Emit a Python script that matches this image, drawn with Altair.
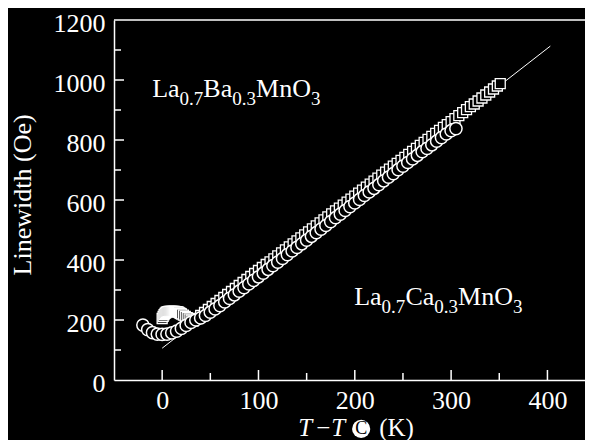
import altair as alt
import pandas as pd

# ---- data ----
circ_T = [-20, -15, -10, -5, 0, 5, 10, 15, 20, 25, 30, 35, 40, 45, 50, 55, 60, 65, 70, 75,
          80, 85, 90, 95, 100, 105, 110, 115, 120, 125, 130, 135, 140, 145, 150, 155, 160,
          165, 170, 175, 180, 185, 190, 195, 200, 205, 210, 215, 220, 225, 230, 235, 240,
          245, 250, 255, 260, 265, 270, 275, 280, 285, 290, 295, 300, 305]
circ_v = [183, 168, 158, 153, 152, 153, 157, 163, 172, 182, 192, 200, 207, 215, 226, 237,
          248, 260, 272, 284, 296, 308, 320, 332, 344, 356, 369, 381, 393, 405, 418, 430,
          442, 454, 466, 479, 491, 503, 515, 528, 541, 553, 565, 578, 590, 602, 615, 627,
          639, 651, 664, 676, 688, 701, 713, 725, 737, 749, 761, 772, 784, 796, 808, 820,
          831, 838]

sq_T = [0, 1, 2, 3, 4, 5, 6, 7, 8, 9, 10, 11, 12, 13, 14, 15, 16, 17, 18, 19, 20, 22, 24,
        26, 28, 30,
        32, 36, 40, 44, 48, 52, 56, 60, 64, 68, 72, 76, 80, 84, 88, 92, 96, 100,
        104, 108, 112, 116, 120, 124, 128, 132, 136, 140, 144, 148, 152, 156, 160,
        164, 168, 172, 176, 180, 184, 188, 192, 196, 200, 204, 208, 212, 216, 220,
        224, 228, 232, 236, 240, 244, 248, 252, 256, 260, 264, 268, 272, 276, 280,
        284, 288, 292, 296, 300, 304, 308, 312, 316, 320, 324, 328, 332, 336, 340,
        344, 348, 351]
sq_v = [205, 212, 218, 222, 225, 227, 228, 229, 229, 229, 229, 229, 229, 229, 228, 228,
        227, 226, 224, 222, 220, 216, 212, 208, 204, 200,
        196, 205, 215, 225, 235, 245, 255, 265, 275, 285, 295, 305, 315, 325, 335, 345, 355, 365,
        375, 385, 394, 404, 414, 424, 434, 444, 454, 464, 474, 484, 494, 504, 514,
        524, 534, 544, 554, 564, 573, 583, 593, 603, 613, 623, 633, 643, 653, 663,
        673, 683, 693, 703, 713, 722, 732, 742, 752, 762, 772, 782, 792, 802, 812,
        822, 832, 842, 851, 861, 871, 881, 891, 901, 911, 920, 930, 940, 950, 960,
        970, 980, 988]

fit_T = [0, 403]
fit_v = [106, 1113]

x_major = [0, 100, 200, 300, 400]
x_minor = [50, 150, 250, 350]
y_labels = [0, 200, 400, 600, 800, 1000, 1200]
y_major = [200, 400, 600, 800, 1000]
y_minor = [100, 300, 500, 700, 900, 1100]

FONT = "Liberation Serif, Times New Roman, serif"
W, H = 471, 360
XDOM = [-50, 439]
YDOM = [0, 1200]

xs = alt.Scale(domain=XDOM, nice=False, zero=False)
ys = alt.Scale(domain=YDOM, nice=False, zero=False)

circ = pd.DataFrame({"T": circ_T, "v": circ_v})
sq = pd.DataFrame({"T": sq_T, "v": sq_v})
fit = pd.DataFrame({"T": fit_T, "v": fit_v})

xaxis = alt.Axis(values=x_major, ticks=False, tickSize=0, labelFont=FONT, labelFontSize=26,
                 labelColor="white", domainColor="white", domainWidth=1.5, grid=False,
                 labelPadding=7, title=None, format="d")
yaxis = alt.Axis(values=y_labels, ticks=False, tickSize=0,
                 labelFont=FONT, labelFontSize=26, labelColor="white", domainColor="white",
                 domainWidth=1.5, grid=False, labelPadding=9, labelOffset=3, title=None,
                 format="d")

base_fit = alt.Chart(fit).mark_line(color="white", strokeWidth=1).encode(
    x=alt.X("T:Q", scale=xs, axis=xaxis),
    y=alt.Y("v:Q", scale=ys, axis=yaxis),
)

squares = alt.Chart(sq).mark_point(shape="square", filled=True, fill="black", stroke="white",
                                   strokeWidth=1.3, size=100, opacity=1).encode(
    x=alt.X("T:Q", scale=xs), y=alt.Y("v:Q", scale=ys), order=alt.Order("T:Q"))

circles = alt.Chart(circ).mark_point(shape="circle", filled=True, fill="black", stroke="white",
                                     strokeWidth=1.5, size=150, opacity=1).encode(
    x=alt.X("T:Q", scale=xs), y=alt.Y("v:Q", scale=ys), order=alt.Order("T:Q"))

# frame top line
top_line = alt.Chart(pd.DataFrame({"a": [0]})).mark_rule(color="white", strokeWidth=1.5).encode(
    x=alt.value(0), x2=alt.value(W), y=alt.value(0))

# inward ticks
xt_major = alt.Chart(pd.DataFrame({"t": x_major})).mark_rule(color="white", strokeWidth=1.5).encode(
    x=alt.X("t:Q", scale=xs), y=alt.value(H), y2=alt.value(H - 10))
xt_minor = alt.Chart(pd.DataFrame({"t": x_minor})).mark_rule(color="white", strokeWidth=1.5).encode(
    x=alt.X("t:Q", scale=xs), y=alt.value(H), y2=alt.value(H - 7))
yt_major = alt.Chart(pd.DataFrame({"t": y_major})).mark_rule(color="white", strokeWidth=1.5).encode(
    y=alt.Y("t:Q", scale=ys), x=alt.value(0), x2=alt.value(10))
yt_minor = alt.Chart(pd.DataFrame({"t": y_minor})).mark_rule(color="white", strokeWidth=1.5).encode(
    y=alt.Y("t:Q", scale=ys), x=alt.value(0), x2=alt.value(7))


def txt(text, T, v, dx=0, dy=0, size=26, color="white", style="normal", align="left",
        baseline="alphabetic", angle=0):
    d = pd.DataFrame({"T": [T], "v": [v], "s": [text]})
    kw = dict(font=FONT, fontSize=size, color=color, align=align, baseline=baseline,
              dx=dx, dy=dy, fontStyle=style)
    if angle:
        kw["angle"] = angle
    return alt.Chart(d).mark_text(**kw).encode(
        x=alt.X("T:Q", scale=xs), y=alt.Y("v:Q", scale=ys), text="s:N")


def formula(parts, T, v):
    # parts: list of (text, is_sub, width_px)
    layers = []
    off = 0
    for text, sub, w in parts:
        layers.append(txt(text, T, v, dx=off, dy=8 if sub else 0, size=19 if sub else 26))
        off += w
    return layers


ba_parts = [("La", False, 27.4), ("0.7", True, 23.8), ("Ba", False, 28.9),
            ("0.3", True, 23.8), ("MnO", False, 54.9), ("3", True, 9.5)]
ca_parts = [("La", False, 27.4), ("0.7", True, 23.8), ("Ca", False, 28.9),
            ("0.3", True, 23.8), ("MnO", False, 54.9), ("3", True, 9.5)]

ann = []
ann += formula(ba_parts, -10.4, 943)
ann += formula(ca_parts, 199.4, 250)

# y-axis title
ann.append(txt("Linewidth  (Oe)", -144.4, 617, size=26, align="center", baseline="middle",
               angle=270))

# x-axis title pieces (slightly raised so that they fit in the page)
ann.append(txt("T", 141.2, -187, size=25, style="italic"))
ann.append(txt("\u2212", 160.0, -187, size=25))
ann.append(txt("T", 175.5, -187, size=25, style="italic"))
dot = alt.Chart(pd.DataFrame({"T": [206.6], "v": [-163]})).mark_point(
    shape="circle", filled=True, color="white", size=330, opacity=1).encode(
    x=alt.X("T:Q", scale=xs), y=alt.Y("v:Q", scale=ys))
ann.append(dot)
ann.append(txt("C", 206.6, -163, size=18, color="black", align="center", baseline="middle"))
ann.append(txt("(K)", 225.3, -187, size=25))

chart = alt.layer(
    base_fit, squares, circles, top_line, xt_major, xt_minor, yt_major, yt_minor, *ann
).properties(
    width=W, height=H,
    autosize=alt.AutoSizeParams(type="none"),
    padding={"left": 106, "top": 12, "right": 0, "bottom": 60},
    background="black",
).configure_view(strokeWidth=0).configure_axis(
    labelFont=FONT, titleFont=FONT
).configure_text(font=FONT)

chart.save("out.html", embed_options={"renderer": "svg", "actions": False})
